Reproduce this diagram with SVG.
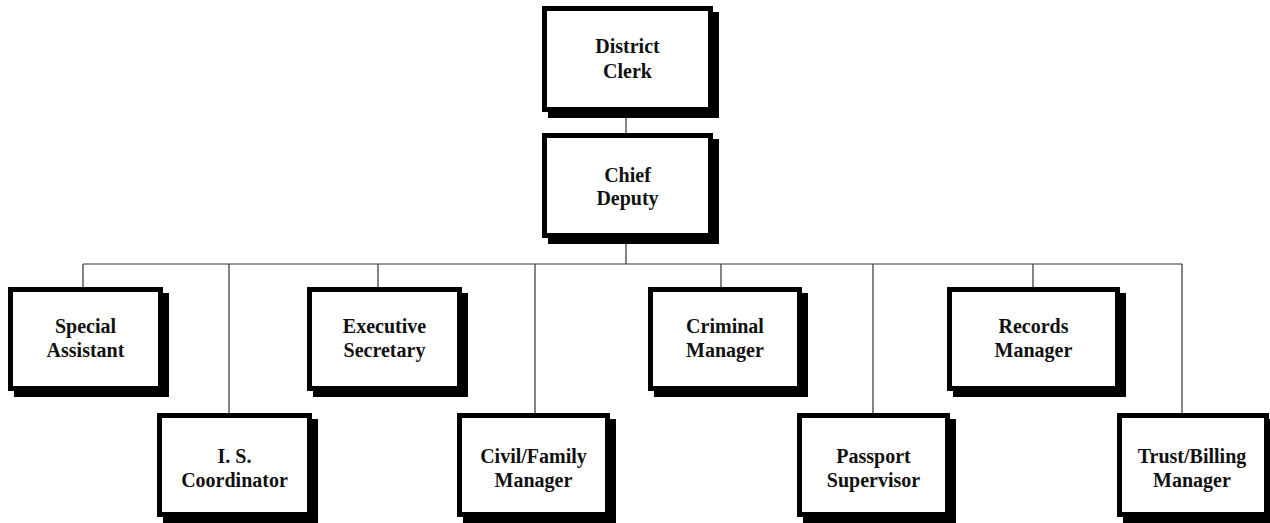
<svg xmlns="http://www.w3.org/2000/svg" width="1270" height="523" viewBox="0 0 1270 523">
<style>
.sh{fill:#000}
.bx{fill:#fff;stroke:#000;stroke-width:5}
.t{font-family:"Liberation Serif","Times New Roman",serif;font-weight:bold;font-size:20px;fill:#111;text-anchor:middle}
.c{stroke:#333;stroke-width:1.2;fill:none}
</style>
<rect width="1270" height="523" fill="#fff"/>
<g id="connectors">
<path class="c" d="M626,112V133 M626,238V264 M83,264H1182 M83,264V287 M229,264V413 M378,264V287 M535,264V413 M721,264V287 M873,264V413 M1033,264V287 M1182,264V413"/>
</g>
<g id="district-clerk">
<rect class="sh" x="548" y="12" width="171" height="106"/>
<rect class="bx" x="544.5" y="8.5" width="166" height="101"/>
<text class="t" x="627.5" y="53">District</text>
<text class="t" x="627.5" y="78">Clerk</text>
</g>
<g id="chief-deputy">
<rect class="sh" x="548" y="139" width="171" height="105"/>
<rect class="bx" x="544.5" y="135.5" width="166" height="100"/>
<text class="t" x="627.5" y="182">Chief</text>
<text class="t" x="627.5" y="205">Deputy</text>
</g>
<g id="special-assistant">
<rect class="sh" x="14" y="293" width="155" height="104"/>
<rect class="bx" x="10.5" y="289.5" width="150" height="99"/>
<text class="t" x="85.5" y="333">Special</text>
<text class="t" x="85.5" y="357">Assistant</text>
</g>
<g id="is-coordinator">
<rect class="sh" x="163" y="419" width="155" height="104"/>
<rect class="bx" x="159.5" y="415.5" width="150" height="99"/>
<text class="t" x="234.5" y="463">I. S.</text>
<text class="t" x="234.5" y="487">Coordinator</text>
</g>
<g id="executive-secretary">
<rect class="sh" x="313" y="293" width="155" height="104"/>
<rect class="bx" x="309.5" y="289.5" width="150" height="99"/>
<text class="t" x="384.5" y="333">Executive</text>
<text class="t" x="384.5" y="357">Secretary</text>
</g>
<g id="civil-family-manager">
<rect class="sh" x="463" y="419" width="153" height="104"/>
<rect class="bx" x="459.5" y="415.5" width="148" height="99"/>
<text class="t" x="533.5" y="463">Civil/Family</text>
<text class="t" x="533.5" y="487">Manager</text>
</g>
<g id="criminal-manager">
<rect class="sh" x="654" y="293" width="154" height="104"/>
<rect class="bx" x="650.5" y="289.5" width="149" height="99"/>
<text class="t" x="725" y="333">Criminal</text>
<text class="t" x="725" y="357">Manager</text>
</g>
<g id="passport-supervisor">
<rect class="sh" x="803" y="419" width="153" height="104"/>
<rect class="bx" x="799.5" y="415.5" width="148" height="99"/>
<text class="t" x="873.5" y="463">Passport</text>
<text class="t" x="873.5" y="487">Supervisor</text>
</g>
<g id="records-manager">
<rect class="sh" x="953" y="293" width="173" height="104"/>
<rect class="bx" x="949.5" y="289.5" width="168" height="99"/>
<text class="t" x="1033.5" y="333">Records</text>
<text class="t" x="1033.5" y="357">Manager</text>
</g>
<g id="trust-billing-manager">
<rect class="sh" x="1123" y="419" width="152" height="104"/>
<rect class="bx" x="1119.5" y="415.5" width="147" height="99"/>
<text class="t" x="1192" y="463">Trust/Billing</text>
<text class="t" x="1192" y="487">Manager</text>
</g>
</svg>
